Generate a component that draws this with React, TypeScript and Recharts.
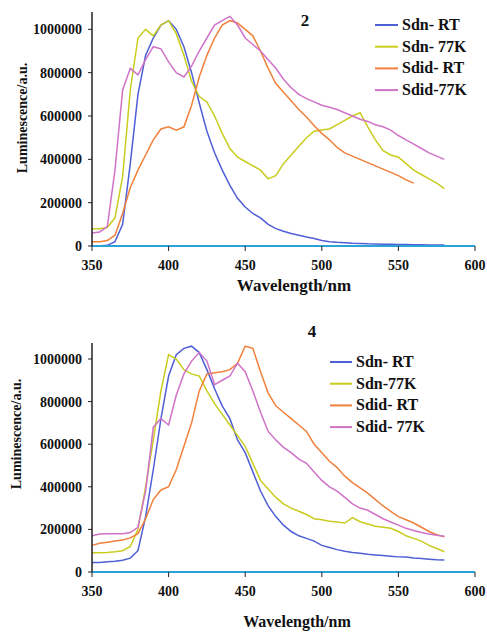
import React from "react";
import { LineChart, Line, XAxis, YAxis } from "recharts";

// wavelength grid (nm) shared by every series
const wavelength = [
  350, 355, 360, 365, 370, 375, 380, 385, 390, 395, 400, 405, 410, 415, 420, 425, 430, 435, 440, 445,
  450, 455, 460, 465, 470, 475, 480, 485, 490, 495, 500, 505, 510, 515, 520, 525, 530, 535, 540, 545,
  550, 555, 560, 565, 570, 575, 580,
];

const xTicks = [350, 400, 450, 500, 550, 600];
const yTicks = [0, 200000, 400000, 600000, 800000, 1000000];

// ---- panel "2"
const p2SdnRT = [
  0, 0, 3000, 20000, 100000, 380000, 700000, 880000, 960000, 1020000, 1040000, 1000000, 920000, 800000,
  660000, 530000, 430000, 350000, 280000, 220000, 180000, 150000, 130000, 100000, 80000, 68000, 58000,
  50000, 42000, 35000, 25000, 20000, 17000, 15000, 13000, 12000, 10000, 9000, 8000, 8000, 7000, 7000,
  6000, 6000, 5000, 5000, 5000,
];
const p2Sdn77K = [
  80000, 80000, 85000, 130000, 320000, 720000, 960000, 1000000, 970000, 1020000, 1040000, 980000, 880000,
  760000, 690000, 665000, 600000, 520000, 450000, 410000, 390000, 370000, 350000, 310000, 325000, 380000,
  420000, 460000, 500000, 530000, 535000, 540000, 560000, 580000, 600000, 615000, 550000, 490000, 440000,
  420000, 410000, 380000, 350000, 330000, 310000, 290000, 265000,
];
const p2SdidRT = [
  20000, 20000, 25000, 50000, 150000, 270000, 350000, 420000, 490000, 540000, 550000, 535000, 550000,
  650000, 780000, 880000, 960000, 1020000, 1040000, 1030000, 1000000, 970000, 900000, 820000, 750000,
  710000, 670000, 630000, 595000, 555000, 520000, 490000, 455000, 430000, 415000, 400000, 385000, 370000,
  355000, 340000, 325000, 305000, 290000,
];
const p2Sdid77K = [
  60000, 65000, 90000, 350000, 720000, 820000, 790000, 860000, 920000, 910000, 850000, 800000, 780000,
  830000, 900000, 960000, 1020000, 1040000, 1060000, 1020000, 960000, 930000, 900000, 860000, 820000,
  770000, 730000, 700000, 680000, 665000, 650000, 640000, 630000, 615000, 600000, 585000, 575000, 560000,
  550000, 535000, 510000, 490000, 470000, 450000, 430000, 415000, 400000,
];

// ---- panel "4"
const p4SdnRT = [
  45000, 45000, 48000, 50000, 55000, 65000, 100000, 260000, 480000, 720000, 920000, 1020000, 1050000,
  1060000, 1030000, 950000, 860000, 780000, 720000, 620000, 560000, 470000, 380000, 310000, 260000,
  220000, 190000, 170000, 158000, 145000, 125000, 115000, 105000, 97000, 92000, 88000, 83000, 80000,
  77000, 74000, 71000, 70000, 66000, 63000, 60000, 57000, 56000,
];
const p4Sdn77K = [
  90000, 90000, 92000, 95000, 100000, 120000, 200000, 400000, 620000, 850000, 1020000, 1000000, 950000,
  930000, 920000, 850000, 790000, 740000, 690000, 640000, 590000, 510000, 430000, 390000, 350000, 320000,
  300000, 285000, 270000, 250000, 245000, 238000, 235000, 230000, 255000, 236000, 225000, 215000, 210000,
  205000, 190000, 170000, 158000, 145000, 125000, 110000, 95000,
];
const p4SdidRT = [
  125000, 135000, 140000, 145000, 150000, 160000, 180000, 250000, 340000, 385000, 400000, 480000, 590000,
  700000, 850000, 930000, 935000, 940000, 950000, 980000, 1060000, 1050000, 940000, 840000, 780000,
  750000, 720000, 690000, 660000, 600000, 560000, 520000, 490000, 450000, 420000, 395000, 370000, 340000,
  310000, 285000, 260000, 245000, 230000, 210000, 190000, 175000, 165000,
];
const p4Sdid77K = [
  170000, 178000, 180000, 180000, 180000, 185000, 210000, 380000, 680000, 720000, 690000, 830000, 930000,
  990000, 1030000, 990000, 880000, 900000, 920000, 980000, 940000, 850000, 750000, 660000, 620000,
  585000, 560000, 530000, 510000, 470000, 430000, 400000, 380000, 350000, 320000, 300000, 290000, 270000,
  250000, 235000, 220000, 205000, 195000, 185000, 178000, 172000, 168000,
];

const names2 = ["Sdn- RT", "Sdn- 77K", "Sdid- RT", "Sdid-77K"];
const names4 = ["Sdn- RT", "Sdn-77K", "Sdid- RT", "Sdid- 77K"];
const colors = ["#4f5fd6", "#c9cc1e", "#f0803a", "#cf72c8"];

const FONT = "'Liberation Serif', 'DejaVu Serif', 'Times New Roman', serif";

function rows(a: number[], b: number[], c: number[], d: number[]) {
  return wavelength.map((w, i) => ({
    w,
    a: a[i] ?? null,
    b: b[i] ?? null,
    c: c[i] ?? null,
    d: d[i] ?? null,
  }));
}

const data2 = rows(p2SdnRT, p2Sdn77K, p2SdidRT, p2Sdid77K);
const data4 = rows(p4SdnRT, p4Sdn77K, p4SdidRT, p4Sdid77K);

type PanelProps = {
  data: any[];
  top: number;
  height: number;
  plotTop: number;
  plotBottom: number;
  yMax: number;
  names: string[];
};

function Panel({ data, top, height, plotTop, plotBottom, yMax, names }: PanelProps) {
  const tick = { fontSize: 14, fontWeight: "bold", fill: "#111", style: { fontFamily: FONT } };
  const keys = ["a", "b", "c", "d"];
  return (
    <div style={{ position: "absolute", left: 0, top, width: 487, height, fontFamily: FONT }}>
      <LineChart
        width={487}
        height={height}
        data={data}
        style={{ fontFamily: FONT }}
        margin={{ top: plotTop, right: 12, left: 0, bottom: height - plotBottom - 30 }}
      >
        <XAxis
          dataKey="w"
          type="number"
          domain={[350, 600]}
          ticks={xTicks}
          height={30}
          tick={tick}
          tickSize={5}
          tickMargin={9}
          axisLine={{ stroke: "#2aa3d8", strokeWidth: 2 }}
          tickLine={{ stroke: "#222" }}
        />
        <YAxis
          type="number"
          domain={[0, yMax]}
          ticks={yTicks}
          width={92}
          tick={tick}
          tickSize={4}
          tickMargin={6}
          tickFormatter={(v: number) => String(v)}
          axisLine={{ stroke: "#222", strokeWidth: 1.5 }}
          tickLine={{ stroke: "#222" }}
        />
        {keys.map((k, i) => (
          <Line
            key={k}
            dataKey={k}
            name={names[i]}
            stroke={colors[i]}
            strokeWidth={1.5}
            dot={false}
            isAnimationActive={false}
          />
        ))}
      </LineChart>
    </div>
  );
}

const txt = { fontWeight: "bold", fill: "#111", style: { fontFamily: FONT } } as const;

function LegendSvg({ x, y, lineW, names }: { x: number; y: number; lineW: number; names: string[] }) {
  return (
    <g>
      {names.map((n, i) => (
        <g key={n}>
          <line x1={x} x2={x + lineW} y1={y + i * 21.7} y2={y + i * 21.7} stroke={colors[i]} strokeWidth={2} />
          <text x={x + lineW + 4} y={y + i * 21.7 + 5} fontSize={16} {...txt}>
            {n}
          </text>
        </g>
      ))}
    </g>
  );
}

export default function App() {
  return (
    <div style={{ position: "absolute", left: 0, top: 0, width: 487, height: 633, background: "#fff", overflow: "hidden" }}>
      <Panel data={data2} top={0} height={300} plotTop={12} plotBottom={246} yMax={1080000} names={names2} />
      <Panel data={data4} top={300} height={333} plotTop={43} plotBottom={272} yMax={1075000} names={names4} />

      <svg width={487} height={633} style={{ position: "absolute", left: 0, top: 0, pointerEvents: "none" }}>
        <LegendSvg x={375} y={25} lineW={23} names={names2} />
        <LegendSvg x={330} y={362} lineW={22} names={names4} />

        <text x={305} y={26} fontSize={17} textAnchor="middle" {...txt}>2</text>
        <text x={312} y={337} fontSize={17} textAnchor="middle" {...txt}>4</text>

        <text x={294} y={291} fontSize={17} textAnchor="middle" {...txt}>
          Wavelength/nm
        </text>
        <text x={297} y={627} fontSize={16} textAnchor="middle" {...txt}>
          Wavelength/nm
        </text>
        <text x={0} y={0} fontSize={14} textAnchor="middle" transform="translate(27 118) rotate(-90)" {...txt}>
          Luminescence/a.u.
        </text>
        <text x={0} y={0} fontSize={14} textAnchor="middle" transform="translate(21 434) rotate(-90)" {...txt}>
          Luminescence/a.u.
        </text>
      </svg>
    </div>
  );
}
